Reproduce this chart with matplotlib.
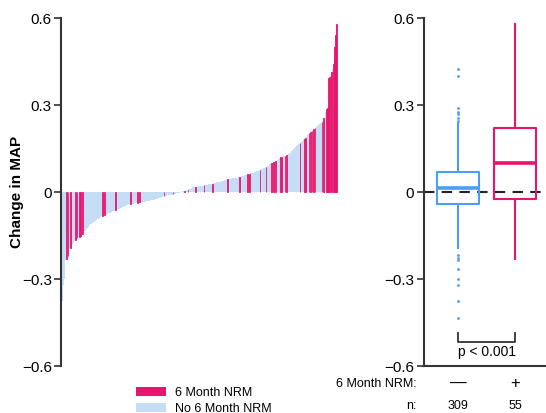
import matplotlib

matplotlib.use("Agg")
import matplotlib.pyplot as plt
import numpy as np
from matplotlib.patches import Patch

plt.rcParams["font.family"] = ["Liberation Sans", "DejaVu Sans"]

PINK = "#E8156E"
LIGHT_BLUE = "#C6DDF6"
BOX_BLUE = "#4A9EF5"

# change in MAP, patients with 6 month NRM (n=55), sorted
nrm_change = [
    -0.230, -0.222, -0.192, -0.165, -0.160, -0.155, -0.150, -0.145,
    -0.082, -0.080, -0.062, -0.041, -0.037, -0.036, -0.014, -0.008,
    0.004, 0.008, 0.018, 0.023, 0.029, 0.044, 0.052, 0.062, 0.063,
    0.076, 0.087, 0.099, 0.103, 0.107, 0.120, 0.122, 0.125, 0.127,
    0.168, 0.183, 0.186, 0.202, 0.207, 0.212, 0.217, 0.222, 0.242,
    0.256, 0.285, 0.289, 0.392, 0.395, 0.409, 0.415, 0.440, 0.461,
    0.500, 0.541, 0.578,
]

# change in MAP, patients without 6 month NRM (n=309), sorted
no_nrm_change = [
    -0.436, -0.375, -0.322, -0.301, -0.267, -0.234, -0.227, -0.217,
    -0.194, -0.189, -0.184, -0.180, -0.176, -0.172, -0.168, -0.164,
    -0.160, -0.156, -0.152, -0.148, -0.144, -0.140, -0.136, -0.133,
    -0.130, -0.127, -0.124, -0.121, -0.118, -0.115, -0.112, -0.110,
    -0.108, -0.106, -0.104, -0.102, -0.100, -0.098, -0.096, -0.094,
    -0.092, -0.090, -0.088, -0.086, -0.084, -0.083, -0.082, -0.080,
    -0.079, -0.078, -0.076, -0.075, -0.074, -0.072, -0.071, -0.070,
    -0.069, -0.067, -0.066, -0.065, -0.064, -0.062, -0.061, -0.060,
    -0.059, -0.058, -0.057, -0.056, -0.054, -0.053, -0.052, -0.051,
    -0.050, -0.049, -0.047, -0.046, -0.045, -0.043,
    -0.042, -0.042, -0.041, -0.041, -0.040, -0.040, -0.039, -0.039,
    -0.038, -0.038, -0.037, -0.037, -0.036, -0.036, -0.035, -0.035,
    -0.034, -0.034, -0.033, -0.033,
    -0.032, -0.032, -0.031, -0.030, -0.030, -0.029, -0.029, -0.028,
    -0.027, -0.027, -0.026, -0.026, -0.025, -0.024, -0.024,
    -0.023, -0.022, -0.021, -0.020, -0.018, -0.017, -0.016, -0.015,
    -0.014, -0.013, -0.013, -0.012, -0.012, -0.011, -0.011, -0.010,
    -0.010, -0.009, -0.009, -0.008,
    -0.007, -0.006, -0.006, -0.005, -0.004, -0.003, -0.003, -0.002,
    -0.001, 0.000, 0.001, 0.002, 0.003, 0.004, 0.005,
    0.006, 0.007, 0.009, 0.010, 0.012, 0.013, 0.015,
    0.016, 0.016, 0.017, 0.017, 0.018, 0.018, 0.019, 0.019, 0.020,
    0.020, 0.021, 0.021,
    0.022, 0.022, 0.023, 0.023, 0.024, 0.024, 0.025, 0.026, 0.026,
    0.027, 0.028, 0.028, 0.029,
    0.030, 0.031, 0.031, 0.032, 0.033, 0.033, 0.034, 0.035, 0.036,
    0.036, 0.037, 0.038, 0.039, 0.039, 0.040, 0.041, 0.042, 0.043, 0.044,
    0.044, 0.045, 0.045, 0.046, 0.046, 0.047, 0.047, 0.048, 0.048,
    0.049, 0.049, 0.050, 0.050, 0.051, 0.052,
    0.053, 0.054, 0.055, 0.056, 0.057, 0.058, 0.059, 0.060, 0.061,
    0.062, 0.063, 0.064, 0.065, 0.066, 0.067, 0.068, 0.069, 0.070,
    0.071, 0.072, 0.073, 0.074, 0.075, 0.076, 0.078, 0.079, 0.080,
    0.082, 0.083, 0.085, 0.087, 0.089,
    0.091, 0.093, 0.095, 0.097, 0.099, 0.101, 0.103, 0.105, 0.107,
    0.109, 0.111, 0.114, 0.117, 0.120,
    0.122, 0.123, 0.124, 0.125, 0.127, 0.129, 0.131, 0.133, 0.135,
    0.138, 0.141, 0.144, 0.147, 0.150, 0.153, 0.156, 0.158, 0.160,
    0.163, 0.165, 0.167,
    0.170, 0.173, 0.176, 0.179, 0.182, 0.186, 0.190, 0.195, 0.200, 0.205,
    0.210, 0.214, 0.218, 0.222, 0.225, 0.228, 0.231, 0.233, 0.235,
    0.237, 0.239,
    0.245, 0.256, 0.268, 0.277, 0.289, 0.401, 0.424,
]

group_labels = ["\u2014", "+"]
group_n = [len(no_nrm_change), len(nrm_change)]
y_ticks = [-0.6, -0.3, 0, 0.3, 0.6]
y_ticklabels = ["\u22120.6", "\u22120.3", "0", "0.3", "0.6"]


def style_axis(axis):
    axis.set_ylim(-0.6, 0.6)
    axis.set_yticks(y_ticks)
    axis.set_yticklabels(y_ticklabels)
    axis.tick_params(axis="y", direction="out", length=5, width=1.2,
                     color="#333333", labelsize=11, pad=2)
    axis.spines["left"].set_linewidth(1.5)
    axis.spines["left"].set_color("#333333")
    axis.spines["top"].set_visible(False)
    axis.spines["right"].set_visible(False)


fig = plt.figure(figsize=(5.46, 4.13), dpi=100)
ax_w = fig.add_axes([0.1126, 0.1138, 0.5137, 0.8426])
ax_b = fig.add_axes([0.7766, 0.1138, 0.2234, 0.8426])

# waterfall
values = np.concatenate([nrm_change, no_nrm_change])
is_nrm = np.concatenate([np.ones(len(nrm_change), bool), np.zeros(len(no_nrm_change), bool)])
order = np.argsort(values, kind="stable")
values = values[order]
is_nrm = is_nrm[order]
xs = np.arange(len(values))
ax_w.bar(xs[~is_nrm], values[~is_nrm], width=1.0, color=LIGHT_BLUE, linewidth=0)
ax_w.bar(xs[is_nrm], values[is_nrm], width=1.0, color=PINK,
         edgecolor=PINK, linewidth=0.6)
ax_w.set_xlim(-0.5, 370.5)
style_axis(ax_w)
ax_w.spines["bottom"].set_visible(False)
ax_w.set_xticks([])
ax_w.set_ylabel("Change in MAP", fontsize=11, fontweight="bold")
ax_w.yaxis.set_label_coords(-0.134, 0.5)

# boxplots
for pos, data, color in [(1, no_nrm_change, BOX_BLUE), (2, nrm_change, PINK)]:
    ax_b.boxplot(
        [data], positions=[pos], widths=0.74, whis=1.5,
        boxprops=dict(color=color, linewidth=1.5),
        medianprops=dict(color=color, linewidth=2.6),
        whiskerprops=dict(color=color, linewidth=1.5),
        capprops=dict(linewidth=0),
        flierprops=dict(marker="o", markersize=2, markerfacecolor=color,
                        markeredgecolor="none"),
        showcaps=False,
    )
ax_b.axhline(0, color="#222222", linestyle=(0, (5, 3.5)), linewidth=1.5, zorder=0)
ax_b.set_xlim(0.4, 2.54)
style_axis(ax_b)
ax_b.spines["bottom"].set_linewidth(1.5)
ax_b.spines["bottom"].set_color("#333333")
ax_b.set_xticks([])

# significance bracket
ax_b.plot([1, 1, 2, 2], [-0.487, -0.516, -0.516, -0.487], color="#333333", linewidth=1.3)
ax_b.text(1.5, -0.527, "p < 0.001", ha="center", va="top", fontsize=10)

# group labels under the box panel
for pos, label, n in zip([1, 2], group_labels, group_n):
    ax_b.text(pos, -0.66, label, ha="center", va="center", fontsize=12,
              clip_on=False)
    ax_b.text(pos, -0.738, str(n), ha="center", va="center", fontsize=9, clip_on=False)
fig.text(417 / 546, 1 - 384 / 413, "6 Month NRM:", ha="right", va="center", fontsize=9)
fig.text(417 / 546, 1 - 406 / 413, "n:", ha="right", va="center", fontsize=9)

handles = [Patch(facecolor=PINK, edgecolor="none"), Patch(facecolor=LIGHT_BLUE, edgecolor="none")]
fig.legend(handles, ["6 Month NRM", "No 6 Month NRM"], loc="upper left",
           bbox_to_anchor=(132 / 546, 1 - 383 / 413), frameon=False, fontsize=9,
           handlelength=2.4, handleheight=0.7, handletextpad=0.75, labelspacing=0.3,
           borderaxespad=0, borderpad=0.3)

fig.savefig("out.png", dpi=100)
